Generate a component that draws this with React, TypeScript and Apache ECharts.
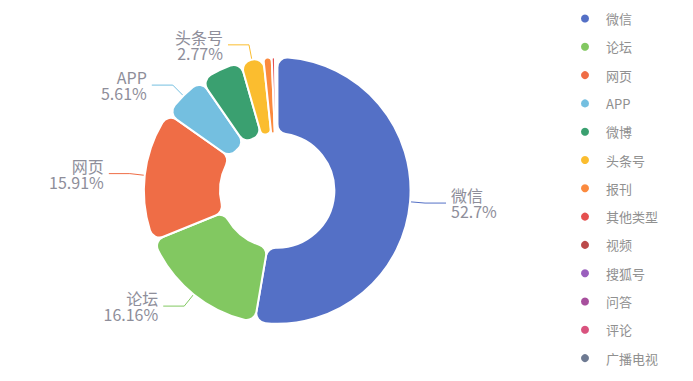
import React, { useEffect, useRef } from "react";
import * as echarts from "echarts";

const categories = ["微信", "论坛", "网页", "APP", "微博", "头条号", "报刊", "其他类型", "视频", "搜狐号", "问答", "评论", "广播电视"];
const values = [52.7, 16.16, 15.91, 5.61, 5.19, 2.77, 1.0, 0.4, 0.15, 0.05, 0.03, 0.02, 0.01];
const showLabel = [true, true, true, true, false, true, false, false, false, false, false, false, false];
const colors = ["#5470c6", "#82c861", "#ef6d46", "#74bfe0", "#3aa070", "#fbbd2f", "#fb8a3e", "#e5504f", "#bb4a4a", "#9a5fbd", "#a74f9d", "#d9527e", "#6e7a92"];

export default function App() {
  const ref = useRef<HTMLDivElement>(null);
  useEffect(() => {
    if (!ref.current) return;
    const chart = echarts.init(ref.current, null, { renderer: "svg" });
    chart.setOption({
      animation: false,
      color: colors,
      legend: {
        orient: "vertical",
        left: 574,
        top: 7,
        itemWidth: 32,
        itemHeight: 10,
        itemGap: 15.3,
        icon: "circle",
        textStyle: { color: "#909090", fontSize: 13, fontFamily: "Noto Sans CJK SC" },
        data: categories,
      },
      series: [
        {
          type: "pie",
          center: ["40%", "50%"],
          radius: ["30%", "70%"],
          startAngle: 90,
          avoidLabelOverlap: true,
          percentPrecision: 2,
          itemStyle: { borderRadius: 10, borderColor: "#fff", borderWidth: 2 },
          label: {
            formatter: "{b}\n{d}%",
            color: "#8e8e9a",
            fontSize: 16,
            lineHeight: 16,
            fontFamily: "Noto Sans CJK SC",
          },
          labelLine: { length: 15, length2: 21 },
          data: categories.map((name, i) => ({
            name,
            value: values[i],
            label: { show: showLabel[i] },
            labelLine: { show: showLabel[i] },
          })),
        },
      ],
    });
    return () => chart.dispose();
  }, []);
  return <div ref={ref} style={{ width: 693, height: 381, marginLeft: -8, marginTop: -8 }} />;
}
